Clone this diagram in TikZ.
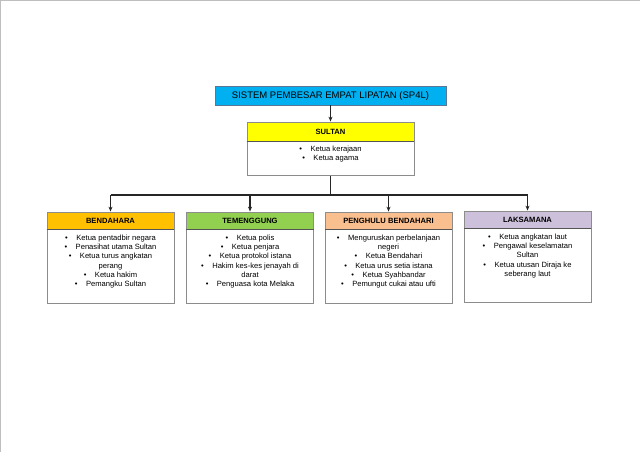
\documentclass[tikz,border=0pt]{standalone}
\usepackage{fontspec}
\setmainfont{Liberation Sans}
\usepackage{xcolor}
\definecolor{titlecyan}{RGB}{0,176,240}
\definecolor{titleedge}{RGB}{90,120,150}
\definecolor{sultanyellow}{RGB}{255,255,0}
\definecolor{bendaharaorange}{RGB}{255,192,0}
\definecolor{temenggunggreen}{RGB}{146,208,80}
\definecolor{penghulupeach}{RGB}{250,191,143}
\definecolor{laksamanalilac}{RGB}{204,192,218}
\definecolor{boxgray}{RGB}{140,140,140}
\definecolor{pageedge}{RGB}{190,190,190}
\usepackage{tikz}
\usetikzlibrary{arrows.meta, positioning}
\newcommand{\itm}{\textbullet\hspace{8.5pt}}
\tikzset{
  >={Stealth[length=5pt,width=4pt]},
  linkarrow/.style={->, line width=1.1pt, black!85},
  titlebox/.style={draw=titleedge, line width=0.8pt, fill=titlecyan,
                   minimum width=231pt, minimum height=19pt, inner sep=0pt,
                   text height=7pt, text depth=0pt,
                   font=\fontsize{9.5}{11}\selectfont},
  headbox/.style={draw=boxgray, line width=0.8pt, minimum width=127pt,
                  minimum height=17pt, inner sep=0pt,
                  font=\fontsize{7.6}{8}\selectfont\bfseries},
  bodybox/.style={draw=boxgray, line width=0.8pt, fill=white, anchor=north,
                  minimum width=127pt, minimum height=74pt, inner sep=0pt},
  listtext/.style={align=center, inner sep=0pt,
                   font=\fontsize{7.6}{9.3}\selectfont},
}

\begin{document}
\begin{tikzpicture}[x=1pt, y=1pt]
  \useasboundingbox (0,0) rectangle (640,-452);
  % page edge
  \draw[pageedge, line width=1pt] (0.5,-452) -- (0.5,-0.5) -- (640,-0.5);

  % top of the chart
  \node[titlebox] (sistem) at (330.5,-95.5) {SISTEM PEMBESAR EMPAT LIPATAN (SP4L)};
  \node[headbox, fill=sultanyellow, minimum width=167pt, minimum height=19pt]
    (sultanhead) at (330.5,-131.5) {SULTAN};
  \node[bodybox, minimum width=167pt, minimum height=34pt]
    (sultanbody) at (sultanhead.south) {};
  \node[listtext, below=4.5pt of sultanhead] (sultanlist)
    {\itm Ketua kerajaan\\ \itm Ketua agama};
  \draw[boxgray!60!black, line width=0.8pt]
    (sultanhead.south west) -- (sultanhead.south east);
  \draw[linkarrow] (sistem) -- (sultanhead);

  % the four officers
  \node[headbox, fill=bendaharaorange] (bendaharahead) at (110.5,-220.5) {BENDAHARA};
  \node[bodybox] (bendaharabody) at (bendaharahead.south) {};
  \node[listtext, below=5pt of bendaharahead] (bendaharalist)
    {\itm Ketua pentadbir negara\\ \itm Penasihat utama Sultan\\
     \itm Ketua turus angkatan\\ perang\\ \itm Ketua hakim\\
     \itm Pemangku Sultan};

  \node[headbox, fill=temenggunggreen] (temenggunghead) at (250,-220.5) {TEMENGGUNG};
  \node[bodybox] (temenggungbody) at (temenggunghead.south) {};
  \node[listtext, below=5pt of temenggunghead] (temenggunglist)
    {\itm Ketua polis\\ \itm Ketua penjara\\ \itm Ketua protokol istana\\
     \itm Hakim kes-kes jenayah di\\ darat\\ \itm Penguasa kota Melaka};

  \node[headbox, fill=penghulupeach] (penghuluhead) at (388.5,-220.5) {PENGHULU BENDAHARI};
  \node[bodybox] (penghulubody) at (penghuluhead.south) {};
  \node[listtext, below=5pt of penghuluhead] (penghululist)
    {\itm Menguruskan perbelanjaan\\ negeri\\ \itm Ketua Bendahari\\
     \itm Ketua urus setia istana\\ \itm Ketua Syahbandar\\
     \itm Pemungut cukai atau ufti};

  \node[headbox, fill=laksamanalilac] (laksamanahead) at (527.5,-219.5) {LAKSAMANA};
  \node[bodybox] (laksamanabody) at (laksamanahead.south) {};
  \node[listtext, below=5pt of laksamanahead] (laksamanalist)
    {\itm Ketua angkatan laut\\ \itm Pengawal keselamatan\\ Sultan\\
     \itm Ketua utusan Diraja ke\\ seberang laut};

  \foreach \who in {bendahara,temenggung,penghulu,laksamana}{
    \draw[boxgray!60!black, line width=0.8pt]
      (\who head.south west) -- (\who head.south east);
  }

  % connectors
  \coordinate (bus) at (330.5,-195);
  \draw[line width=1.1pt, black!85] (sultanbody.south) -- (bus);
  \draw[line width=1.1pt, black!85]
    (bendaharahead.north |- bus) -- (laksamanahead.north |- bus);
  \foreach \who in {bendahara,temenggung,penghulu,laksamana}{
    \draw[linkarrow] (\who head.north |- bus) -- (\who head.north);
  }
\end{tikzpicture}
\end{document}
